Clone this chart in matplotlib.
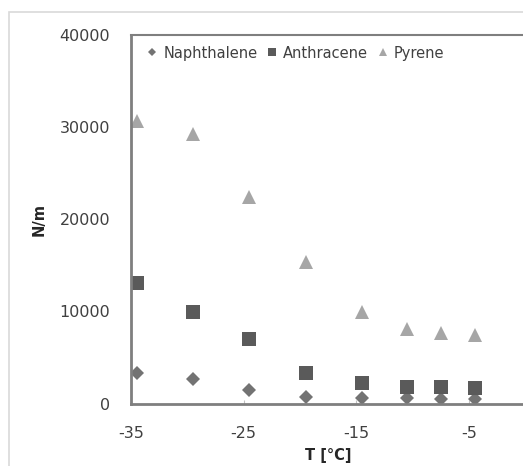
import matplotlib
matplotlib.use("Agg")
import matplotlib.pyplot as plt
from matplotlib.patches import Rectangle

plt.rcParams["axes.unicode_minus"] = False

# temperatures [degC]
temps = [-34.5, -29.5, -24.5, -19.5, -14.5, -10.5, -7.5, -4.5]

naphthalene = [3340, 2630, 1470, 670, 560, 560, 460, 500]
anthracene = [13120, 9970, 6970, 3280, 2190, 1820, 1820, 1650]
pyrene = [30700, 29260, 22390, 15400, 9970, 8060, 7690, 7440]

x_ticks = [-35, -25, -15, -5]
y_ticks = [0, 10000, 20000, 30000, 40000]

W, H = 523, 466
fig = plt.figure(figsize=(W / 100, H / 100), dpi=100)

# light outer chart frame (cut off at right / bottom)
fig.add_artist(Rectangle((8.5 / W, -0.1), 1.2, (H - 11.5) / H + 0.1,
                         transform=fig.transFigure, fill=False,
                         edgecolor="#d9d9d9", linewidth=1.2))

ax = fig.add_axes([131 / W, (H - 403.5) / H, (525.3 - 131) / W, (403.5 - 35) / H])

ax.plot(temps, naphthalene, "D", color="#737373", ms=7.5, mew=0, label="Naphthalene")
ax.plot(temps, anthracene, "s", color="#5a5a5a", ms=10, mew=0, label="Anthracene")
ax.plot(temps, pyrene, "^", color="#a6a6a6", ms=10.5, mew=0, label="Pyrene")

ax.set_xlim(-35, 0)
ax.set_ylim(0, 40000)
ax.set_xticks(x_ticks)
ax.set_yticks(y_ticks)

for s in ax.spines.values():
    s.set_color("#7f7f7f")
    s.set_linewidth(2)
ax.spines["top"].set_linewidth(1.5)

ax.tick_params(axis="x", direction="in", length=3, color="#c0c0c0",
               labelsize=11.5, labelcolor="#404040", pad=16)
ax.tick_params(axis="y", length=0, labelsize=11.5, labelcolor="#404040", pad=15)

ax.set_xlabel("T [°C]", fontsize=10.5, fontweight="bold", color="#262626", labelpad=5)
ax.set_ylabel("N/m", fontsize=10.5, fontweight="bold", color="#262626", labelpad=9)

ax.legend(loc="center left", bbox_to_anchor=(0.0284, 0.951), ncol=3, frameon=False,
          fontsize=10.5, handlelength=0.6, handletextpad=0.45, columnspacing=0.7,
          markerscale=0.6, borderaxespad=0, labelcolor="#404040")

fig.savefig("out.png", dpi=100)
